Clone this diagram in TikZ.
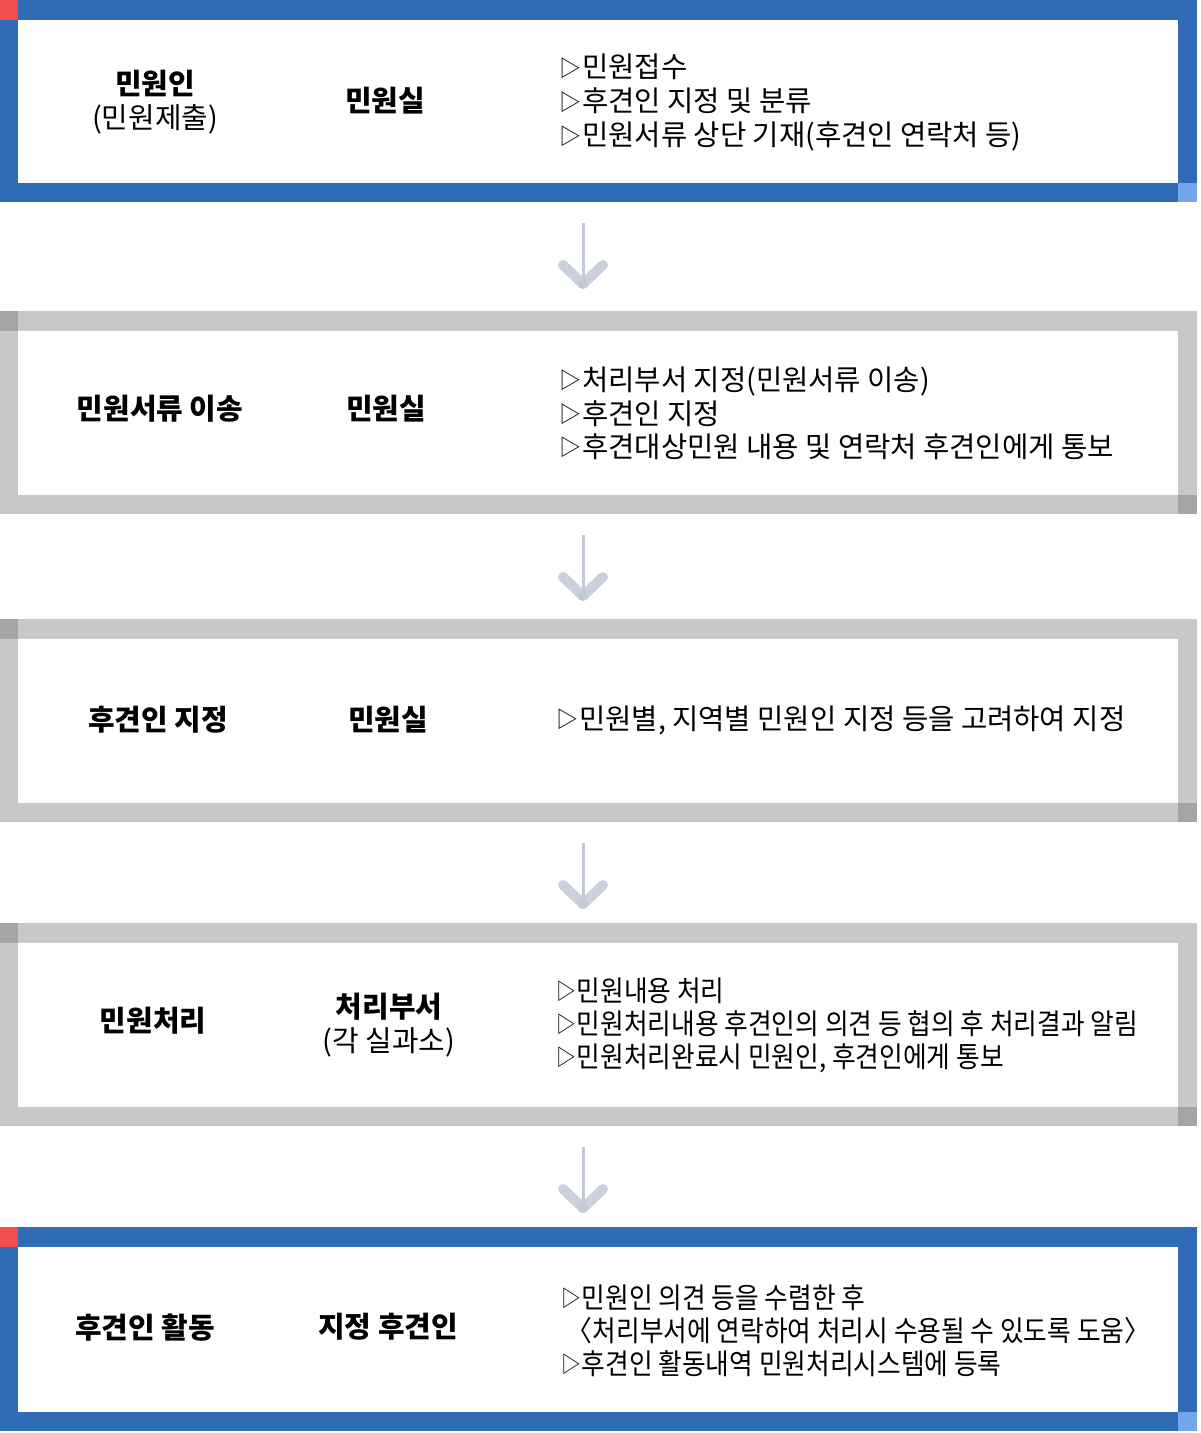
\documentclass[tikz,border=0pt]{standalone}
\usepackage{fontspec}
\setmainfont{Noto Sans CJK KR}
\definecolor{fblue}{HTML}{2F6CB5}
\definecolor{fred}{HTML}{F24E4F}
\definecolor{flight}{HTML}{74A7E8}
\definecolor{fgray}{HTML}{C8C8C8}
\definecolor{fdark}{HTML}{A5A5A5}
\definecolor{arr}{HTML}{C3CAD7}
\newcommand\myframe[5]{%
  \fill[#3] (0,#1) rectangle (1197,#2);
  \fill[white] (18,#1+20) rectangle (1178,#2-19);
  \fill[#4] (0,#1) rectangle (18,#1+20);
  \fill[#5] (1178,#2-19) rectangle (1197,#2);
}
\newcommand\cond[1]{\scalebox{0.90}[1]{#1}}
\newcommand\tri{\raisebox{1.5bp}{\fontsize{22}{22}\selectfont ▷}\kern1bp}
\begin{document}
\begin{tikzpicture}[x=1bp,y=-1bp,
  lab/.style={font=\fontsize{29}{32}\selectfont\bfseries, anchor=base, inner sep=0pt},
  sub/.style={font=\fontsize{29}{32}\selectfont, anchor=base, inner sep=0pt},
  item/.style={font=\fontsize{28.7}{32}\selectfont, anchor=base west, inner sep=0pt},
  shaft/.style={draw=arr, line width=3bp},
  wing/.style={draw=arr, line width=10bp, line cap=round, opacity=0.85},
]
\useasboundingbox (0,0) rectangle (1200,1433);
\fill[white] (0,0) rectangle (1200,1433);

% frames
\myframe{0}{202}{fblue}{fred}{flight}
\myframe{311}{514}{fgray}{fdark}{fdark}
\myframe{619}{822}{fgray}{fdark}{fdark}
\myframe{923}{1126}{fgray}{fdark}{fdark}
\myframe{1227}{1431}{fblue}{fred}{flight}

% box 1
\node[lab] (l1) at (155,95) {민원인};
\node[sub] (l1s) at (155,129) {(민원제출)};
\node[lab] (m1) at (385,112) {민원실};
\node[item] (t11) at (559,78) {\tri 민원접수};
\node[item] (t12) at (559,112) {\tri 후견인 지정 및 분류};
\node[item] (t13) at (559,146) {\tri 민원서류 상단 기재(후견인 연락처 등)};

% box 2
\node[lab] (l2) at (160,419) {민원서류 이송};
\node[lab] (m2) at (386,419) {민원실};
\node[item] (t21) at (559,390) {\tri 처리부서 지정(민원서류 이송)};
\node[item] (t22) at (559,424) {\tri 후견인 지정};
\node[item] (t23) at (559,457) {\tri 후견대상민원 내용 및 연락처 후견인에게 통보};

% box 3
\node[lab] (l3) at (158,730) {후견인 지정};
\node[lab] (m3) at (388,730) {민원실};
\node[item] (t31) at (556,729) {\tri 민원별, 지역별 민원인 지정 등을 고려하여 지정};

% box 4
\node[lab] (l4) at (153,1031) {민원처리};
\node[lab] (m4) at (389,1017) {처리부서};
\node[sub] (m4s) at (389,1051) {(각 실과소)};
\node[item] (t41) at (556,1001) {\cond{\tri 민원내용 처리}};
\node[item] (t42) at (556,1034) {\cond{\tri 민원처리내용 후견인의 의견 등 협의 후 처리결과 알림}};
\node[item] (t43) at (556,1067) {\cond{\tri 민원처리완료시 민원인, 후견인에게 통보}};

% box 5
\node[lab] (l5) at (145,1338) {후견인 활동};
\node[lab] (m5) at (388,1337) {지정 후견인};
\node[item] (t51) at (561,1308) {\cond{\tri 민원인 의견 등을 수렴한 후}};
\node[item] (t52) at (561,1341) {\cond{ 〈처리부서에 연락하여 처리시 수용될 수 있도록 도움〉}};
\node[item] (t53) at (561,1374) {\cond{\tri 후견인 활동내역 민원처리시스템에 등록}};

% arrows
\foreach \i/\ys/\ye in {1/223/284, 2/535/596, 3/843/904, 4/1147/1208}{
  \coordinate (s\i) at (583,\ys);
  \coordinate (e\i) at (583,\ye);
  \coordinate (wl\i) at (563,\ye-19);
  \coordinate (wr\i) at (603,\ye-19);
  \draw[shaft] (s\i) -- (e\i);
  \draw[wing] (wl\i) -- (e\i);
  \draw[wing] (wr\i) -- (e\i);
}
\end{tikzpicture}
\end{document}
